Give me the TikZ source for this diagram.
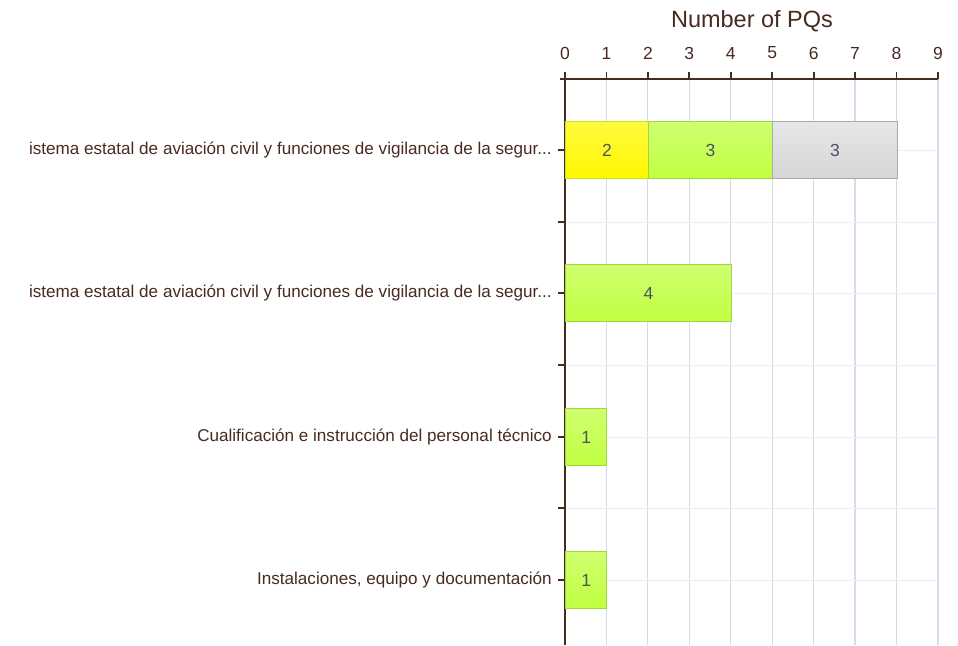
\documentclass[tikz,border=0pt]{standalone}
\usepackage{fontspec}
\setmainfont{Liberation Sans}
\usetikzlibrary{positioning}
\definecolor{axisbrown}{RGB}{72,42,32}
\definecolor{gridblue}{RGB}{212,220,236}
\definecolor{gridgray}{RGB}{238,238,238}
\definecolor{baryellow}{RGB}{255,248,0}
\definecolor{bargreen}{RGB}{192,255,64}
\definecolor{greenedge}{RGB}{160,215,60}
\definecolor{bargray}{RGB}{214,214,214}
\definecolor{grayedge}{RGB}{170,170,170}
\definecolor{valtext}{RGB}{72,84,100}

\begin{document}
\begin{tikzpicture}[x=1pt,y=-1pt,
  lbl/.style={text=axisbrown,font=\fontsize{17.1}{17}\selectfont,inner sep=0pt},
  axisline/.style={draw=axisbrown,line width=1.8pt},
  gridline/.style={draw=gridblue,line width=1.2pt},
  faintline/.style={draw=gridgray,line width=1pt},
  barbox/.style={anchor=west,minimum height=57pt,inner sep=0pt,line width=1pt,
    text=valtext,font=\fontsize{17.5}{17}\selectfont},
  yellowbar/.style={barbox,draw=greenedge!60!baryellow,top color=baryellow!75!white,
    middle color=baryellow!85!white,bottom color=baryellow},
  greenbar/.style={barbox,draw=greenedge,top color=bargreen!75!white,
    middle color=bargreen!60!white,bottom color=bargreen},
  graybar/.style={barbox,draw=grayedge,top color=bargray!60!white,
    middle color=bargray!70!white,bottom color=bargray}
]
\def\ux{41.44}
\useasboundingbox (0,0) rectangle (958,645);

% grid
\foreach \i in {1,...,9}
  \draw[gridline] ({565+\i*\ux},79) -- ({565+\i*\ux},645);
\foreach \y in {150,222,293,365,437,508,580}
  \draw[faintline] (566,\y) -- (938,\y);

% axes and ticks
\draw[axisline] (560,79) -- (938,79);
\draw[axisline] (565,72) -- (565,645);
\foreach \i in {0,...,9} {
  \draw[axisline] ({565+\i*\ux},72) -- ({565+\i*\ux},79);
  \node[lbl,font=\fontsize{17.5}{17}\selectfont] (t\i) at ({565+\i*\ux},53) {\i};
}
\foreach \y in {150,222,293,365,437,508,580}
  \draw[axisline,line width=1.4pt] (558,\y) -- (565,\y);

\node[lbl,font=\fontsize{23.5}{23}\selectfont] (title) at (752,21) {Number of PQs};

% the categories
\node[lbl,anchor=east] (cat1) at (552,150) {istema estatal de aviación civil y funciones de vigilancia de la segur...};
\node[lbl,anchor=east] (cat2) at (552,293) {istema estatal de aviación civil y funciones de vigilancia de la segur...};
\node[lbl,anchor=east] (cat3) at (552,437) {Cualificación e instrucción del personal técnico};
\node[lbl,anchor=east] (cat4) at (552,580) {Instalaciones, equipo y documentación};

% the bars
\node[yellowbar,minimum width=2*\ux] (b1y) at (565,150) {2};
\node[greenbar,minimum width=3*\ux] (b1g) at ({565+2*\ux},150) {3};
\node[graybar,minimum width=3*\ux] (b1s) at ({565+5*\ux},150) {3};
\node[greenbar,minimum width=4*\ux] (b2) at (565,293) {4};
\node[greenbar,minimum width=\ux] (b3) at (565,437) {1};
\node[greenbar,minimum width=\ux] (b4) at (565,580) {1};
\end{tikzpicture}
\end{document}
